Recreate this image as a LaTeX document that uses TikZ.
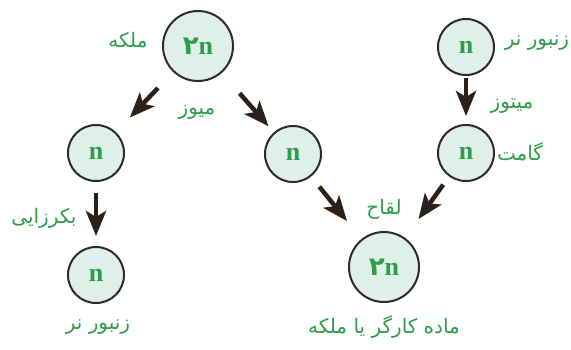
\documentclass[tikz,border=0pt]{standalone}
\usepackage{fontspec}
\setmainfont{Liberation Serif}
\newfontfamily\arabicfont[Script=Arabic]{DejaVu Sans}
\TeXXeTstate=1
\usetikzlibrary{arrows.meta}
\definecolor{txtgreen}{HTML}{2E9D4B}
\definecolor{nodefill}{HTML}{DFF0E8}
\definecolor{ringcol}{HTML}{2D2A28}
\definecolor{arrowcol}{HTML}{2B2118}
\tikzset{
  cell/.style={circle, draw=ringcol, line width=2pt, fill=nodefill, minimum size=56pt,
    inner sep=0pt, font=\fontsize{26}{26}\selectfont\bfseries, text=txtgreen},
  bigcell/.style={cell, minimum size=70pt},
  lbl/.style={text=txtgreen, font=\arabicfont\fontsize{20}{22}\selectfont, inner sep=0pt},
  flow/.style={draw=arrowcol, line width=4.5pt, -{Stealth[length=25pt,width=20pt,inset=6pt]}}
}
\begin{document}
\begin{tikzpicture}[x=1pt,y=-1pt]
\useasboundingbox[fill=white] (0,0) rectangle (571,349);
% nodes
\node[bigcell] (top) at (198,46) {{\arabicfont ۲}n};
\node[cell] (topR) at (466,47) {n};
\node[cell] (midL) at (96,153) {n};
\node[cell] (midC) at (293,154) {n};
\node[cell] (midR) at (466,153) {n};
\node[cell] (botL) at (96,275) {n};
\node[bigcell] (bot) at (384,267) {{\arabicfont ۲}n};
% arrows
\draw[flow, shorten <=22pt, shorten >=20pt] (top) -- (midL);
\draw[flow, shorten <=27pt, shorten >=8pt] (top) -- (midC);
\draw[flow, shorten <=2pt, shorten >=8pt] (topR) -- (midR);
\draw[flow, shorten <=11pt, shorten >=10pt] (midL) -- (botL);
\draw[flow, shorten <=13pt, shorten >=23pt] (midC) -- (bot);
\draw[flow, shorten <=10pt, shorten >=23pt] (midR) -- (bot);
% labels
\node[lbl] (l1) at (128,40) {\beginR ملکه\endR};
\node[lbl] (l2) at (537,43) {\beginR زنبور نر\endR};
\node[lbl] (l3) at (197,112) {\beginR میوز\endR};
\node[lbl] (l4) at (512,106) {\beginR میتوز\endR};
\node[lbl] (l5) at (520,152) {\beginR گامت\endR};
\node[lbl] (l6) at (44,218) {\beginR بکرزایی\endR};
\node[lbl] (l7) at (384,209) {\beginR لقاح\endR};
\node[lbl] (l8) at (98,327) {\beginR زنبور نر\endR};
\node[lbl] (l9) at (384,327) {\beginR ماده کارگر یا ملکه\endR};
\end{tikzpicture}
\end{document}
